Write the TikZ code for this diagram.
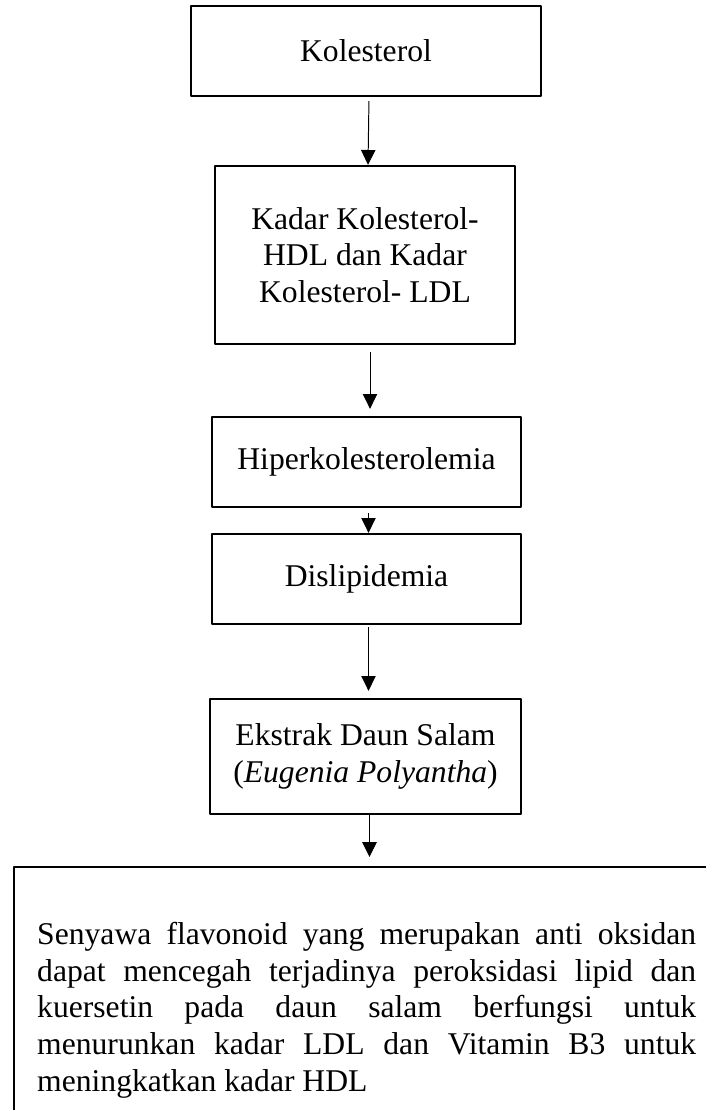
\documentclass[tikz,border=0pt]{standalone}
\usepackage{fontspec}
\setmainfont{Liberation Serif}
\usetikzlibrary{arrows.meta}
\begin{document}
\begin{tikzpicture}[line join=round,
	kotak/.style={draw,line width=1.7pt,align=center,inner sep=0pt,font=\fontsize{22.5}{26.1}\selectfont},
	panah/.style={line width=0.7pt,-{Triangle[length=0.37cm,width=0.36cm]}}]
	\useasboundingbox (0,0) rectangle (17.625,-27.75);
	
	\node[kotak,minimum width=8.75cm,minimum height=2.25cm] (kol) at (9.15,-1.275) {Kolesterol};
	\node[kotak,minimum width=7.5cm,minimum height=4.45cm] (kadar) at (9.125,-6.375)
		{Kadar Kolesterol-\\HDL dan Kadar\\Kolesterol- LDL};
	\node[kotak,minimum width=7.725cm,minimum height=2.25cm] (hiper) at (9.1625,-11.55) {Hiperkolesterolemia};
	\node[kotak,minimum width=7.725cm,minimum height=2.25cm] (dis) at (9.1625,-14.475) {Dislipidemia};
	\node[kotak,minimum width=7.775cm,minimum height=2.875cm] (ekstrak) at (9.1375,-18.9125)
		{Ekstrak Daun Salam\\(\textit{Eugenia Polyantha})};
	
	% kotak bawah, terpotong di kanan dan bawah
	\node[kotak,anchor=north west,align=justify,text width=16.475cm,inner xsep=0.575cm,
		minimum height=7.15cm] (senyawa) at (0.325,-21.65)
		{Senyawa flavonoid yang merupakan anti oksidan\linebreak
		dapat mencegah terjadinya peroksidasi lipid dan\linebreak
		kuersetin pada daun salam berfungsi untuk\linebreak
		menurunkan kadar LDL dan Vitamin B3 untuk\linebreak
		meningkatkan kadar HDL};
	
	\draw[panah,shorten <=0.1cm] ([xshift=0.075cm]kol.south) -- ([xshift=0.075cm]kadar.north);
	\draw[panah,shorten <=0.175cm,shorten >=0.175cm] ([xshift=0.125cm]kadar.south) -- ([xshift=0.125cm]kadar.south |- hiper.north);
	\draw[panah,shorten <=0.125cm] ([xshift=0.05cm]hiper.south) -- ([xshift=0.05cm]dis.north);
	\draw[panah,shorten <=0.05cm,shorten >=0.175cm] ([xshift=0.05cm]dis.south) -- ([xshift=0.05cm]dis.south |- ekstrak.north);
	\draw[panah,shorten >=0.225cm] ([xshift=0.1cm]ekstrak.south) -- ([xshift=0.1cm]ekstrak.south |- senyawa.north);
\end{tikzpicture}
\end{document}
